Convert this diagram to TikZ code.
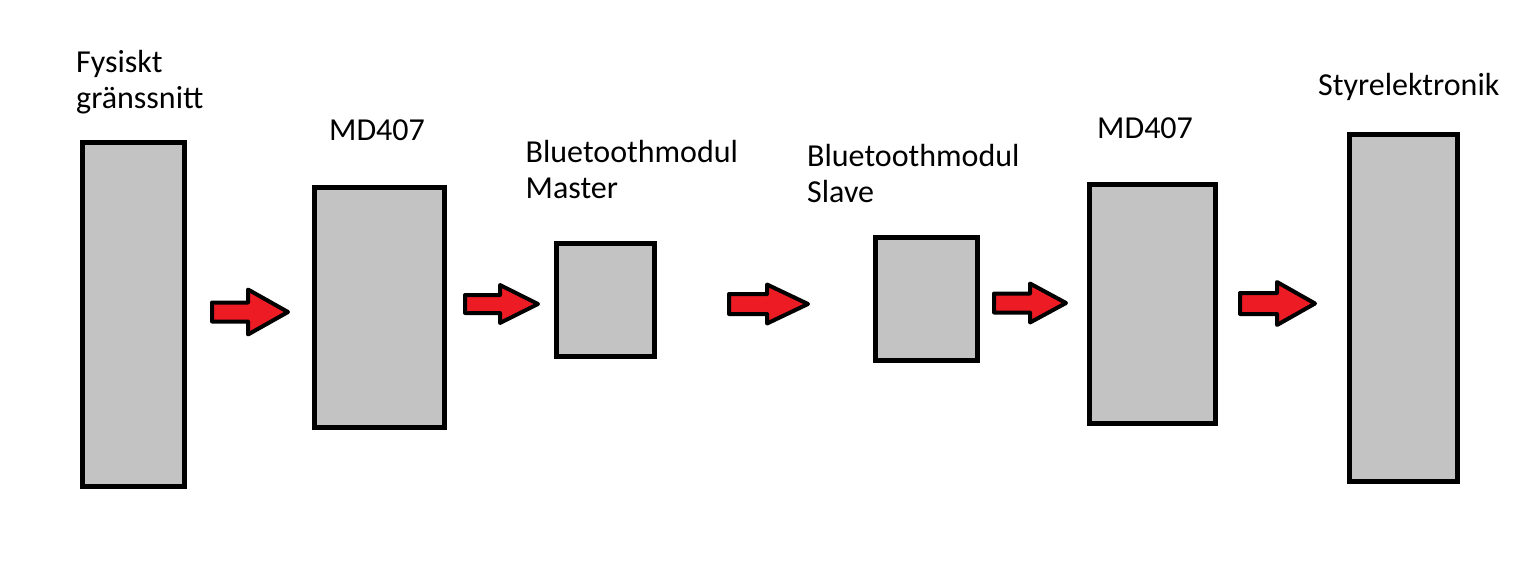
\documentclass[tikz,border=0pt]{standalone}
\usepackage{fontspec}
\setmainfont{Carlito}
\definecolor{boxgray}{HTML}{C3C3C3}
\definecolor{paintred}{HTML}{ED1C24}
\tikzset{
  blockbox/.style 2 args={draw=black, fill=boxgray, line width=5pt, inner sep=0pt, outer sep=0pt, minimum width=#1, minimum height=#2},
  label text/.style={anchor=base west, inner sep=0pt, align=left, font=\fontsize{32pt}{36pt}\selectfont},
  blockarrow/.style={draw=black, fill=paintred, line width=4pt, line join=round}
}
% #1 left x, #2 head base x, #3 tip x, #4 centre y, #5 shaft half height, #6 head half height
\newcommand{\redarrow}[6]{%
  \draw[blockarrow] (#1,#4-#5) -- (#2,#4-#5) -- (#2,#4-#6) -- (#3,#4) -- (#2,#4+#6) -- (#2,#4+#5) -- (#1,#4+#5) -- cycle;}
\begin{document}
\begin{tikzpicture}[x=1pt,y=-1pt]
\useasboundingbox (0,0) rectangle (1514,568);
% boxes
\node[blockbox={102pt}{344pt}] (b1) at (133.5,314.5) {};
\node[blockbox={130pt}{240pt}] (b2) at (379.5,307.5) {};
\node[blockbox={98pt}{113pt}]  (b3) at (605.5,300) {};
\node[blockbox={102pt}{123pt}] (b4) at (926.5,299) {};
\node[blockbox={126pt}{239pt}] (b5) at (1152.5,304) {};
\node[blockbox={108pt}{347pt}] (b6) at (1403.5,308) {};
% labels (base = baseline of the last line)
\node[label text] (l1) at (76,108) {Fysiskt\\gränssnitt};
\node[label text] (l2) at (329,140) {MD407};
\node[label text] (l3) at (525.5,198) {Bluetoothmodul\\Master};
\node[label text] (l4) at (807,202) {Bluetoothmodul\\Slave};
\node[label text] (l5) at (1097,138) {MD407};
\node[label text] (l6) at (1318,95) {Styrelektronik};
% arrows
\redarrow{212}{248}{288}{312}{9.5}{22.5}
\redarrow{465}{500}{538}{304}{9}{19}
\redarrow{729}{767}{808}{304}{10}{19.5}
\redarrow{994}{1030}{1066}{303}{9.5}{19.5}
\redarrow{1240}{1277}{1315}{303.5}{10.5}{21.5}
\end{tikzpicture}
\end{document}
